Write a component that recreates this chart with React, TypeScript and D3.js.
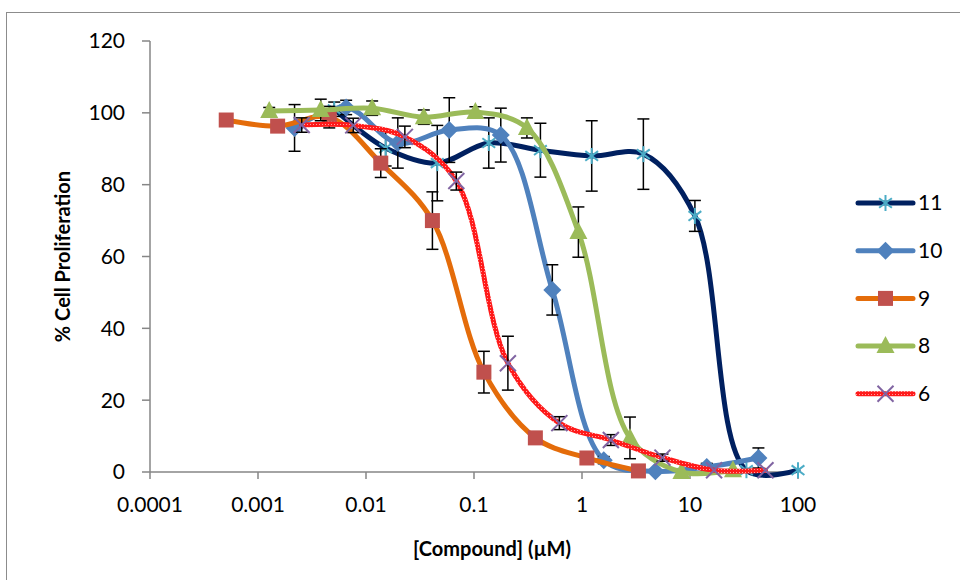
import React, { useEffect, useRef } from 'react';
import * as d3 from 'd3';

// concentrations (µM), % proliferation and error (±) per compound
const conc11 = [0.00508, 0.0152, 0.0457, 0.137, 0.412, 1.23, 3.70, 11.1, 33.3, 100];
const vals11 = [101, 90.2, 86, 91.6, 89.6, 88, 88.5, 71.3, 0.5, 0.5];
const err11 = [2, 5, 10.5, 7, 7.5, 9.8, 9.8, 4.3, 0, 0];

const conc10 = [0.00218, 0.00655, 0.0197, 0.059, 0.177, 0.531, 1.59, 4.78, 14.3, 43];
const vals10 = [95.8, 101.5, 91.6, 95.2, 93.8, 50.7, 3.3, 0.2, 1.4, 3.9];
const err10 = [6.5, 2, 7, 9, 7.5, 7, 1, 0.5, 1, 2.8];

const conc9 = [0.000508, 0.00152, 0.00457, 0.0137, 0.0412, 0.1235, 0.370, 1.11, 3.33];
const vals9 = [98, 96.3, 98.8, 86, 70, 27.8, 9.5, 3.9, 0.3];
const err9 = [0, 1.5, 3, 4, 8, 5.8, 1, 0.8, 0.3];

const conc8 = [0.00127, 0.00381, 0.0114, 0.0343, 0.103, 0.309, 0.926, 2.78, 8.33, 25];
const vals8 = [100.5, 100.8, 101.3, 98.8, 100.2, 95.8, 66.8, 9.5, 0, 0.5];
const err8 = [1, 3, 2, 2, 1.5, 2.8, 7, 5.8, 0.5, 0.5];

const conc6 = [0.00254, 0.00762, 0.0229, 0.0686, 0.206, 0.617, 1.85, 5.56, 16.7, 50];
const vals6 = [96.6, 96.5, 93.3, 81, 30.3, 13.6, 8.9, 4, 0.5, 0.5];
const err6 = [2, 2, 3, 2.5, 7.5, 1.8, 1.5, 1, 0.3, 0.3];

const seriesNames = ['11', '10', '9', '8', '6'];
const xTicks = [0.0001, 0.001, 0.01, 0.1, 1, 10, 100];
const yTicks = [0, 20, 40, 60, 80, 100, 120];

const FONT = 'Lato, "Open Sans", sans-serif';

export default function App() {
  const ref = useRef<SVGSVGElement | null>(null);

  useEffect(() => {
    const svg = d3.select(ref.current);
    svg.selectAll('*').remove();

    const left = 150, right = 798, top = 41, bottom = 472;

    const x = d3.scaleLog().domain([0.0001, 100]).range([left, right]);
    const y = d3.scaleLinear().domain([0, 120]).range([bottom, top]);

    // red cross-hatched stroke for compound 6
    const defs = svg.append('defs');
    const pat = defs.append('pattern')
      .attr('id', 'hatch')
      .attr('patternUnits', 'userSpaceOnUse')
      .attr('width', 3).attr('height', 3);
    pat.append('rect').attr('width', 3).attr('height', 3).attr('fill', '#ff1a1a');
    pat.append('rect').attr('x', 1).attr('y', 1).attr('width', 1).attr('height', 1).attr('fill', '#ffa0a0');

    // outer frame
    svg.append('rect')
      .attr('x', 6.5).attr('y', 12.5)
      .attr('width', 1000).attr('height', 1000)
      .attr('fill', 'white')
      .attr('stroke', '#8c8c8c')
      .attr('stroke-width', 1);

    // axes
    const axisColor = '#868686';
    const g = svg.append('g');
    g.append('line')
      .attr('x1', left).attr('x2', left).attr('y1', top).attr('y2', bottom)
      .attr('stroke', axisColor).attr('stroke-width', 1.5);
    g.append('line')
      .attr('x1', left).attr('x2', right).attr('y1', bottom).attr('y2', bottom)
      .attr('stroke', axisColor).attr('stroke-width', 1.5);

    yTicks.forEach(t => {
      g.append('line')
        .attr('x1', left - 8).attr('x2', left).attr('y1', y(t)).attr('y2', y(t))
        .attr('stroke', axisColor).attr('stroke-width', 1.5);
      g.append('text')
        .attr('x', left - 25).attr('y', y(t))
        .attr('dy', '0.35em')
        .attr('text-anchor', 'end')
        .attr('font-family', FONT).attr('font-size', 21)
        .text(t);
    });

    xTicks.forEach(t => {
      g.append('line')
        .attr('x1', x(t)).attr('x2', x(t)).attr('y1', bottom).attr('y2', bottom + 7)
        .attr('stroke', axisColor).attr('stroke-width', 1.5);
      g.append('text')
        .attr('x', x(t)).attr('y', bottom + 40)
        .attr('text-anchor', 'middle')
        .attr('font-family', FONT).attr('font-size', 21)
        .text(String(t));
    });

    // axis titles
    svg.append('text')
      .attr('transform', `translate(70, ${(top + bottom) / 2}) rotate(-90)`)
      .attr('text-anchor', 'middle')
      .attr('font-family', FONT).attr('font-size', 20).attr('font-weight', 'bold')
      .text('% Cell Proliferation');

    svg.append('text')
      .attr('x', 492).attr('y', bottom + 84)
      .attr('text-anchor', 'middle')
      .attr('font-family', FONT).attr('font-size', 20).attr('font-weight', 'bold')
      .text('[Compound] (µM)');

    const series = [
      { name: '11', c: conc11, v: vals11, e: err11, line: '#002060', marker: 'asterisk', mc: '#4BACC6' },
      { name: '10', c: conc10, v: vals10, e: err10, line: '#4F81BD', marker: 'diamond', mc: '#4F81BD' },
      { name: '9', c: conc9, v: vals9, e: err9, line: '#E46C0A', marker: 'square', mc: '#C0504D' },
      { name: '8', c: conc8, v: vals8, e: err8, line: '#9BBB59', marker: 'triangle', mc: '#9BBB59' },
      { name: '6', c: conc6, v: vals6, e: err6, line: 'url(#hatch)', marker: 'x', mc: '#8064A2' },
    ];

    const lineGen = d3.line<[number, number]>()
      .x(d => x(d[0]))
      .y(d => y(d[1]))
      .curve(d3.curveCatmullRom.alpha(0.5));

    const drawMarker = (sel: any, kind: string, color: string, cx: number, cy: number) => {
      if (kind === 'asterisk') {
        const r = 8;
        const m = sel.append('g').attr('stroke', color).attr('stroke-width', 2);
        [[0, -r, 0, r], [-r * 0.8, -r * 0.6, r * 0.8, r * 0.6], [-r * 0.8, r * 0.6, r * 0.8, -r * 0.6]].forEach(p => {
          m.append('line')
            .attr('x1', cx + p[0]).attr('y1', cy + p[1])
            .attr('x2', cx + p[2]).attr('y2', cy + p[3]);
        });
      } else if (kind === 'diamond') {
        sel.append('path')
          .attr('d', `M${cx},${cy - 9}L${cx + 9},${cy}L${cx},${cy + 9}L${cx - 9},${cy}Z`)
          .attr('fill', color);
      } else if (kind === 'square') {
        sel.append('rect')
          .attr('x', cx - 7.5).attr('y', cy - 7.5).attr('width', 15).attr('height', 15)
          .attr('fill', color);
      } else if (kind === 'triangle') {
        sel.append('path')
          .attr('d', `M${cx},${cy - 10}L${cx + 9},${cy + 7}L${cx - 9},${cy + 7}Z`)
          .attr('fill', color);
      } else {
        const r = 8;
        const m = sel.append('g').attr('stroke', color).attr('stroke-width', 2);
        m.append('line').attr('x1', cx - r).attr('y1', cy - r).attr('x2', cx + r).attr('y2', cy + r);
        m.append('line').attr('x1', cx - r).attr('y1', cy + r).attr('x2', cx + r).attr('y2', cy - r);
      }
    };

    const plot = svg.append('g');
    series.forEach(s => {
      const pts: [number, number][] = s.c.map((c, i) => [c, s.v[i]]);
      const sg = plot.append('g');
      sg.append('path')
        .attr('d', lineGen(pts))
        .attr('fill', 'none')
        .attr('stroke', s.line)
        .attr('stroke-width', 5)
        .attr('stroke-linecap', 'round');

      // error bars
      pts.forEach((p, i) => {
        const err = s.e[i];
        if (err < 0.6) return;
        const cx = x(p[0]);
        const y1 = y(p[1] + err), y2 = y(p[1] - err);
        sg.append('line').attr('x1', cx).attr('x2', cx).attr('y1', y1).attr('y2', y2)
          .attr('stroke', 'black').attr('stroke-width', 1.5);
        [y1, y2].forEach(yy => {
          sg.append('line').attr('x1', cx - 6).attr('x2', cx + 6).attr('y1', yy).attr('y2', yy)
            .attr('stroke', 'black').attr('stroke-width', 1.5);
        });
      });

      pts.forEach(p => drawMarker(sg, s.marker, s.mc, x(p[0]), y(p[1])));
    });

    // legend
    const leg = svg.append('g');
    series.forEach((s, i) => {
      const ly = 203 + i * 47.7;
      leg.append('line')
        .attr('x1', 858).attr('x2', 913).attr('y1', ly).attr('y2', ly)
        .attr('stroke', s.line).attr('stroke-width', 5).attr('stroke-linecap', 'round');
      drawMarker(leg, s.marker, s.mc, 885.5, ly);
      leg.append('text')
        .attr('x', 918).attr('y', ly).attr('dy', '0.35em')
        .attr('font-family', FONT).attr('font-size', 21)
        .text(seriesNames[i]);
    });
  }, []);

  return (
    <svg ref={ref} width={960} height={580}
      style={{ position: 'absolute', left: 0, top: 0, background: 'white' }} />
  );
}
